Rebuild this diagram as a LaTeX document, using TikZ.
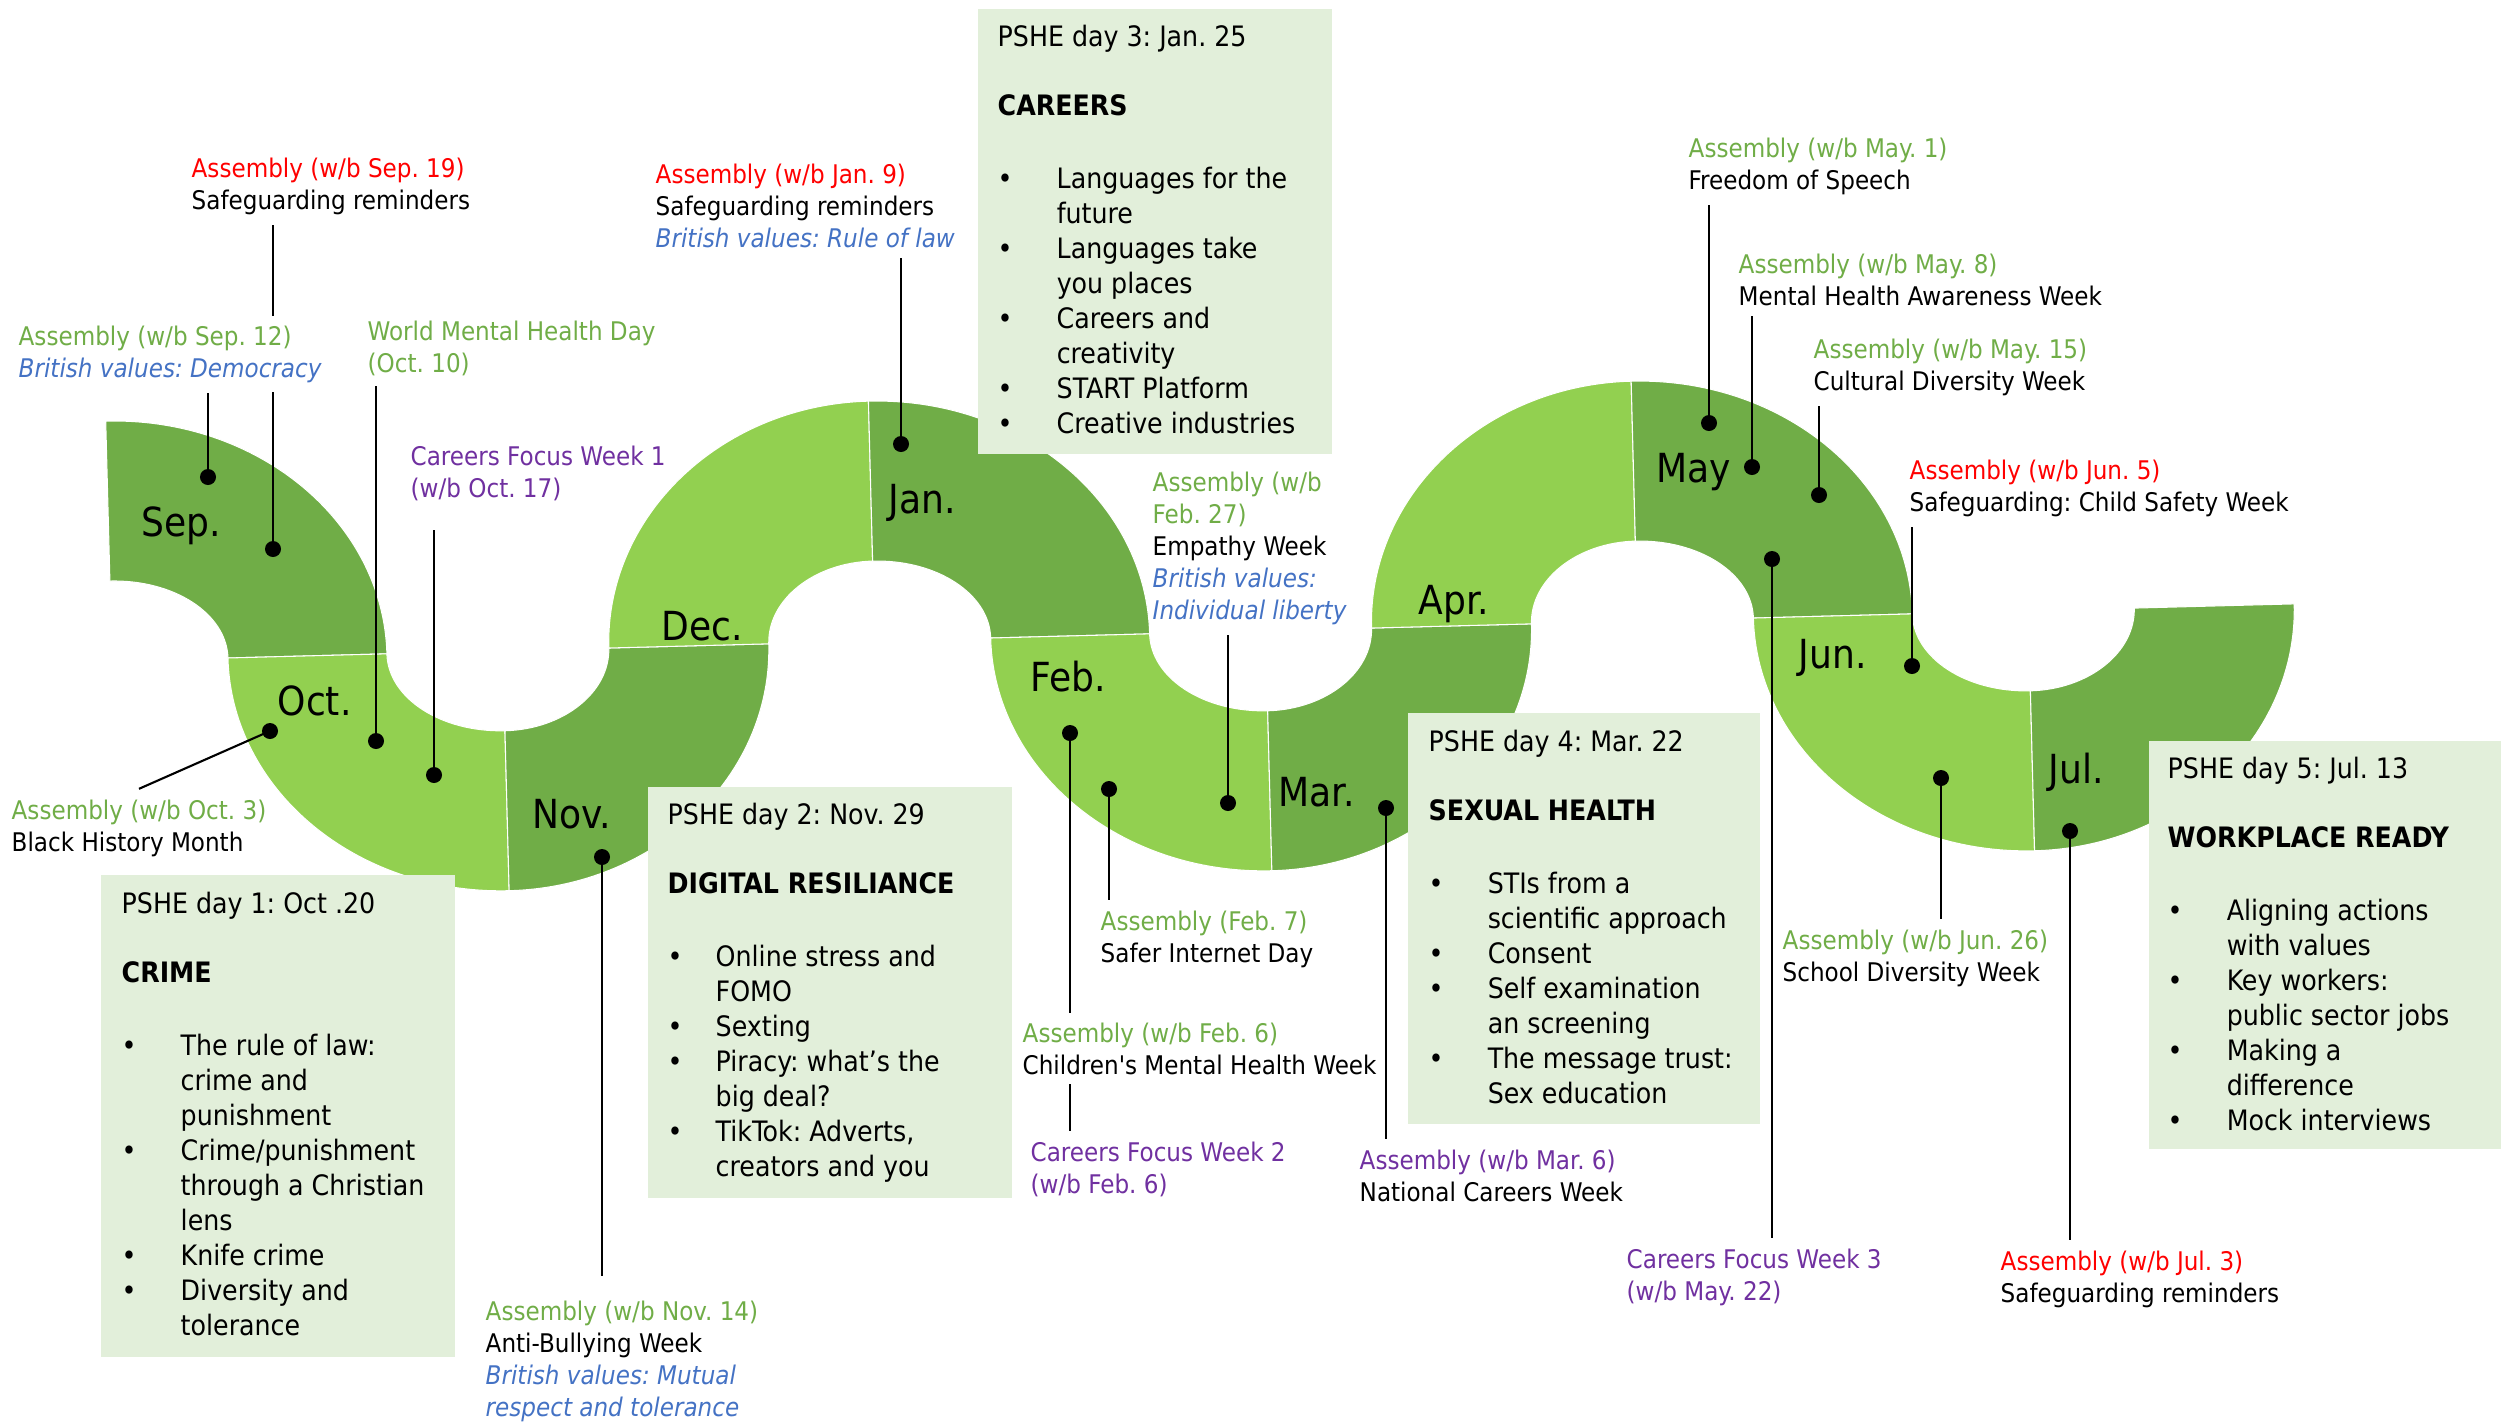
\documentclass[tikz,border=0pt]{standalone}
\usepackage{fontspec}
\setmainfont{DejaVuSansCondensed}[Extension=.ttf, BoldFont=DejaVuSansCondensed-Bold, ItalicFont=DejaVuSansCondensed-Oblique, BoldItalicFont=DejaVuSansCondensed-BoldOblique]
\usetikzlibrary{calc, backgrounds, positioning}
\frenchspacing

\definecolor{snakedark}{HTML}{70AD47}
\definecolor{snakelight}{HTML}{92D050}
\definecolor{boxfill}{HTML}{E2EFDA}
\definecolor{asmgreen}{HTML}{70AD47}
\definecolor{asmred}{HTML}{FF0000}
\definecolor{cfwpurple}{HTML}{7030A0}
\definecolor{valblue}{HTML}{4472C4}

\newcommand{\lblfont}{\fontsize{7.3}{9.1}\selectfont}
\newcommand{\boxfont}{\fontsize{8}{9.96}\selectfont}
\newcommand{\monthfont}{\fontsize{11.4}{13}\selectfont}

% one quarter of the ribbon: centre x, start angle, end angle, outer rx, inner rx, colour
\newcommand{\monthpart}[6]{%
  \fill[#6, draw=white, line width=0.3pt] ($(#1,661)+(#2:#4 and 240)$) arc[start angle=#2, end angle=#3, x radius=#4, y radius=240]
    -- ($(#1,661)+(#3:#5 and 80)$) arc[start angle=#3, end angle=#2, x radius=#5, y radius=80] -- cycle;}
\newcommand{\itm}{\textbullet &}

\begin{document}
\begin{tikzpicture}[
    x=0.01cm, y=-0.01cm,
    every node/.style={inner sep=0pt},
    % labels are placed at the baseline of their last line
    lbl/.style={font=\lblfont, align=left, anchor=base west, inner xsep=0pt, inner ysep=0.1cm},
    coverlbl/.style={lbl, fill=white},
    month/.style={font=\monthfont, anchor=base west},
    dot/.style={circle, fill=black, minimum size=0.16cm},
    link/.style={line width=0.6pt},
    pshebox/.style={rectangle, fill=boxfill, anchor=north west},
    boxtext/.style={font=\boxfont, anchor=base west}
]
\useasboundingbox (0,0) rectangle (2501,1423);

% the ribbon
\begin{scope}[on background layer, rotate around={1.5:(112,661)}]
    \monthpart{112}{270}{360}{275}{116}{snakedark}   % Sep
    \monthpart{503}{180}{90}{275}{116}{snakelight}   % Oct
    \monthpart{503}{90}{0}{266}{106}{snakedark}      % Nov
    \monthpart{875}{180}{270}{266}{106}{snakelight}  % Dec
    \monthpart{875}{270}{360}{275}{116}{snakedark}   % Jan
    \monthpart{1266}{180}{90}{275}{116}{snakelight}  % Feb
    \monthpart{1266}{90}{0}{266}{106}{snakedark}     % Mar
    \monthpart{1638}{180}{270}{266}{106}{snakelight} % Apr
    \monthpart{1638}{270}{360}{275}{116}{snakedark}  % May
    \monthpart{2029}{180}{90}{275}{116}{snakelight}  % Jun
    \monthpart{2029}{90}{0}{266}{106}{snakedark}     % Jul
\end{scope}

% months
\node[month] (mSep) at (141,536) {Sep.};
\node[month] (mOct) at (277,715) {Oct.};
\node[month] (mNov) at (532,828) {Nov.};
\node[month] (mDec) at (661,640) {Dec.};
\node[month] (mJan) at (888,513) {Jan.};
\node[month] (mFeb) at (1030,691) {Feb.};
\node[month] (mMar) at (1278,806) {Mar.};
\node[month] (mApr) at (1418,614) {Apr.};
\node[month] (mMay) at (1656,482) {May};
\node[month] (mJun) at (1798,668) {Jun.};
\node[month] (mJul) at (2048,783) {Jul.};

% dots on the ribbon
\node[dot] (dSep12) at (208,477) {};
\node[dot] (dSep19) at (273,549) {};
\node[dot] (dOct3) at (270,731) {};
\node[dot] (dMhd) at (376,741) {};
\node[dot] (dCfw1) at (434,775) {};
\node[dot] (dNov14) at (602,857) {};
\node[dot] (dJan9) at (901,444) {};
\node[dot] (dFeb6) at (1070,733) {};
\node[dot] (dFeb7) at (1109,789) {};
\node[dot] (dFeb27) at (1228,803) {};
\node[dot] (dMar6) at (1386,808) {};
\node[dot] (dMay1) at (1709,423) {};
\node[dot] (dMay8) at (1752,467) {};
\node[dot] (dMay15) at (1819,495) {};
\node[dot] (dMay22) at (1772,559) {};
\node[dot] (dJun5) at (1912,666) {};
\node[dot] (dJun26) at (1941,778) {};
\node[dot] (dJul3) at (2070,831) {};

% event labels
\node[lbl] (lSep19) at (191,209) {\textcolor{asmred}{Assembly (w/b Sep. 19)}\\Safeguarding reminders};
\node[coverlbl] (lSep12) at (18,377) {\textcolor{asmgreen}{Assembly (w/b Sep. 12)}\\\textcolor{valblue}{\textit{British values: Democracy}}};
\node[lbl] (lMhd) at (367,372) {\textcolor{asmgreen}{World Mental Health Day}\\\textcolor{asmgreen}{(Oct. 10)}};
\node[lbl] (lCfw1) at (410,497) {\textcolor{cfwpurple}{Careers Focus Week 1}\\\textcolor{cfwpurple}{(w/b Oct. 17)}};
\node[lbl] (lOct3) at (11,851) {\textcolor{asmgreen}{Assembly (w/b Oct. 3)}\\Black History Month};
\node[lbl] (lJan9) at (655,247) {\textcolor{asmred}{Assembly (w/b Jan. 9)}\\Safeguarding reminders\\\textcolor{valblue}{\textit{British values: Rule of law}}};
\node[lbl] (lFeb27) at (1152,619) {\textcolor{asmgreen}{Assembly (w/b}\\\textcolor{asmgreen}{Feb. 27)}\\Empathy Week\\\textcolor{valblue}{\textit{British values:}}\\\textcolor{valblue}{\textit{Individual liberty}}};
\node[lbl] (lFeb7) at (1100,962) {\textcolor{asmgreen}{Assembly (Feb. 7)}\\Safer Internet Day};
\node[coverlbl] (lFeb6) at (1022,1074) {\textcolor{asmgreen}{Assembly (w/b Feb. 6)}\\Children\textquotesingle s Mental Health Week};
\node[lbl] (lCfw2) at (1030,1193) {\textcolor{cfwpurple}{Careers Focus Week 2}\\\textcolor{cfwpurple}{(w/b Feb. 6)}};
\node[lbl] (lMar6) at (1359,1201) {\textcolor{cfwpurple}{Assembly (w/b Mar. 6)}\\National Careers Week};
\node[lbl] (lNov14) at (485,1416) {\textcolor{asmgreen}{Assembly (w/b Nov. 14)}\\Anti-Bullying Week\\\textcolor{valblue}{\textit{British values: Mutual}}\\\textcolor{valblue}{\textit{respect and tolerance}}};
\node[lbl] (lMay1) at (1688,189) {\textcolor{asmgreen}{Assembly (w/b May. 1)}\\Freedom of Speech};
\node[lbl] (lMay8) at (1738,305) {\textcolor{asmgreen}{Assembly (w/b May. 8)}\\Mental Health Awareness Week};
\node[lbl] (lMay15) at (1813,390) {\textcolor{asmgreen}{Assembly (w/b May. 15)}\\Cultural Diversity Week};
\node[lbl] (lJun5) at (1909,511) {\textcolor{asmred}{Assembly (w/b Jun. 5)}\\Safeguarding: Child Safety Week};
\node[lbl] (lJun26) at (1782,981) {\textcolor{asmgreen}{Assembly (w/b Jun. 26)}\\School Diversity Week};
\node[lbl] (lCfw3) at (1626,1300) {\textcolor{cfwpurple}{Careers Focus Week 3}\\\textcolor{cfwpurple}{(w/b May. 22)}};
\node[lbl] (lJul3) at (2000,1302) {\textcolor{asmred}{Assembly (w/b Jul. 3)}\\Safeguarding reminders};

% connectors, under the labels
\begin{scope}[on background layer]
    \draw[link] (dSep12.center) -- (dSep12 |- lSep12.south);
    \draw[link] (dSep19.center) -- (dSep19 |- lSep19.south);
    \draw[link] (dOct3.center) -- (lOct3.north);
    \draw[link] (dMhd.center) -- (dMhd |- lMhd.south);
    \draw[link, shorten >=0.19cm] (dCfw1.center) -- (dCfw1 |- lCfw1.south);
    \draw[link, shorten >=0.14cm] (dNov14.center) -- (dNov14 |- lNov14.north);
    \draw[link] (dJan9.center) -- (dJan9 |- lJan9.south);
    \draw[link] (dFeb6.center) -- (dFeb6 |- lCfw2.north);
    \draw[link] (dFeb7.center) -- (dFeb7 |- lFeb7.north);
    \draw[link] (dFeb27.center) -- (dFeb27 |- lFeb27.south);
    \draw[link] (dMar6.center) -- (dMar6 |- lMar6.north);
    \draw[link] (dMay1.center) -- (dMay1 |- lMay1.south);
    \draw[link] (dMay8.center) -- (dMay8 |- lMay8.south);
    \draw[link] (dMay15.center) -- (dMay15 |- lMay15.south);
    \draw[link] (dMay22.center) -- (dMay22 |- lCfw3.north);
    \draw[link] (dJun5.center) -- (dJun5 |- lJun5.south);
    \draw[link] (dJun26.center) -- (dJun26 |- lJun26.north);
    \draw[link] (dJul3.center) -- (dJul3 |- lJul3.north);
\end{scope}

% PSHE days
\node[pshebox, minimum width=3.54cm, minimum height=4.82cm] (boxA) at (100,874) {};
\node[boxtext] (tA) at ($(boxA.north west)+(21,39)$) {\begin{tabular}[t]{@{}p{0.59cm}@{}l@{}}
    \multicolumn{2}{@{}l@{}}{PSHE day 1: Oct .20}\\[0.34cm]
    \multicolumn{2}{@{}l@{}}{\textbf{CRIME}}\\[0.38cm]
    \itm The rule of law:\\ & crime and\\ & punishment\\
    \itm Crime/punishment\\ & through a Christian\\ & lens\\
    \itm Knife crime\\
    \itm Diversity and\\ & tolerance
\end{tabular}};

\node[pshebox, minimum width=3.64cm, minimum height=4.11cm] (boxB) at (647,786) {};
\node[boxtext] (tB) at ($(boxB.north west)+(20,38)$) {\begin{tabular}[t]{@{}p{0.48cm}@{}l@{}}
    \multicolumn{2}{@{}l@{}}{PSHE day 2: Nov. 29}\\[0.34cm]
    \multicolumn{2}{@{}l@{}}{\textbf{DIGITAL RESILIANCE}}\\[0.38cm]
    \itm Online stress and\\ & FOMO\\
    \itm Sexting\\
    \itm Piracy: what’s the\\ & big deal?\\
    \itm TikTok: Adverts,\\ & creators and you
\end{tabular}};

\node[pshebox, minimum width=3.54cm, minimum height=4.45cm] (boxC) at (977,8) {};
\node[boxtext] (tC) at ($(boxC.north west)+(20,38)$) {\begin{tabular}[t]{@{}p{0.59cm}@{}l@{}}
    \multicolumn{2}{@{}l@{}}{PSHE day 3: Jan. 25}\\[0.34cm]
    \multicolumn{2}{@{}l@{}}{\textbf{CAREERS}}\\[0.38cm]
    \itm Languages for the\\ & future\\
    \itm Languages take\\ & you places\\
    \itm Careers and\\ & creativity\\
    \itm START Platform\\
    \itm Creative industries
\end{tabular}};

\node[pshebox, minimum width=3.52cm, minimum height=4.11cm] (boxD) at (1407,712) {};
\node[boxtext] (tD) at ($(boxD.north west)+(21,39)$) {\begin{tabular}[t]{@{}p{0.59cm}@{}l@{}}
    \multicolumn{2}{@{}l@{}}{PSHE day 4: Mar. 22}\\[0.34cm]
    \multicolumn{2}{@{}l@{}}{\textbf{SEXUAL HEALTH}}\\[0.38cm]
    \itm STIs from a\\ & scientific approach\\
    \itm Consent\\
    \itm Self examination\\ & an screening\\
    \itm The message trust:\\ & Sex education
\end{tabular}};

\node[pshebox, minimum width=3.53cm, minimum height=4.08cm] (boxE) at (2148,740) {};
\node[boxtext] (tE) at ($(boxE.north west)+(19,38)$) {\begin{tabular}[t]{@{}p{0.59cm}@{}l@{}}
    \multicolumn{2}{@{}l@{}}{PSHE day 5: Jul. 13}\\[0.34cm]
    \multicolumn{2}{@{}l@{}}{\textbf{WORKPLACE READY}}\\[0.38cm]
    \itm Aligning actions\\ & with values\\
    \itm Key workers:\\ & public sector jobs\\
    \itm Making a\\ & difference\\
    \itm Mock interviews
\end{tabular}};

\end{tikzpicture}
\end{document}
